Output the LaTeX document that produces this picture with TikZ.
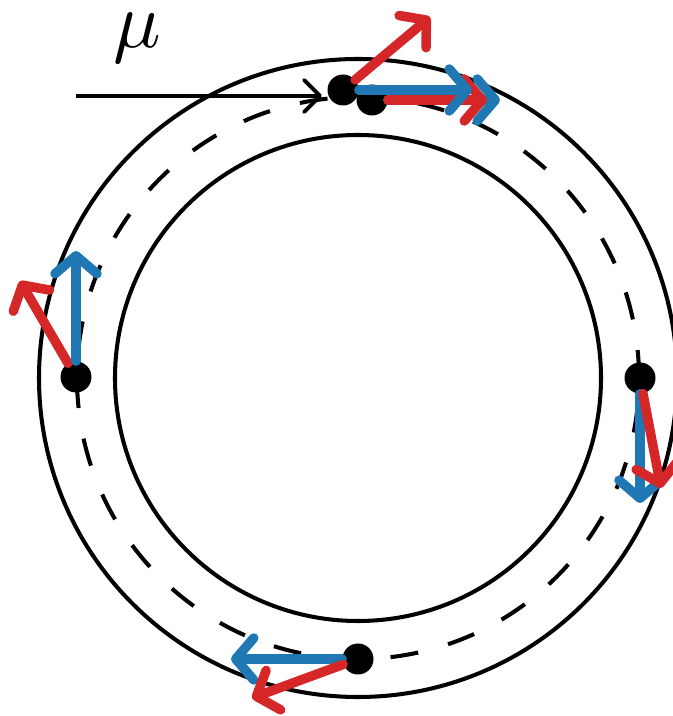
\documentclass[tikz,border=0pt]{standalone}
\usepackage{tikz}
\usetikzlibrary{arrows.meta}

\definecolor{tabred}{HTML}{D62728}
\definecolor{tabblue}{HTML}{1F77B4}

\tikzset{
  dot/.style={circle, fill=black, inner sep=0pt, minimum size=0.62cm},
  ring/.style={line width=2.3pt},
  vel/.style={line width=5.4pt, line cap=round,
    -{Straight Barb[length=0.36cm, width=0.84cm, round]}},
  flow/.style={line width=2.2pt,
    -{Straight Barb[length=0.32cm, width=0.64cm, round]}}
}

\begin{document}
\begin{tikzpicture}
  \useasboundingbox (0,0) rectangle (13.44,14.32);

  % ring
  \coordinate (c) at (7.16,6.76);
  \draw[ring] (c) circle (6.38);
  \draw[ring] (c) circle (4.86);
  \draw[ring, dash pattern=on 0.56cm off 0.62cm] (c) circle (5.62);

  % particles
  \node[dot] (pa) at (6.86,12.52) {};
  \node[dot] (pb) at (7.44,12.32) {};
  \node[dot] (pl) at (1.52,6.78) {};
  \node[dot] (pr) at (12.80,6.76) {};
  \node[dot] (pd) at (7.16,1.14) {};

  % arrow tips
  \coordinate (ra) at (8.60,13.98);
  \coordinate (ba) at (9.44,12.52);
  \coordinate (rb) at (9.74,12.32);
  \coordinate (bb) at (10.00,12.32);
  \coordinate (bl) at (1.52,9.30);
  \coordinate (rl) at (0.40,8.70);
  \coordinate (br) at (12.80,4.26);
  \coordinate (rr) at (13.22,4.56);
  \coordinate (bd) at (4.62,1.14);
  \coordinate (rd) at (5.04,0.36);

  % velocities
  \draw[vel, tabred] (pa) -- (ra);
  \draw[vel, tabblue] (pb) -- (bb);
  \draw[vel, tabred] (pb) -- (rb);
  \draw[vel, tabblue] (pa) -- (ba);
  \draw[vel, tabred] (pl) -- (rl);
  \draw[vel, tabblue] (pl) -- (bl);
  \draw[vel, tabblue] (pr) -- (br);
  \draw[vel, tabred] (pr) -- (rr);
  \draw[vel, tabblue] (pd) -- (bd);
  \draw[vel, tabred] (pd) -- (rd);

  % incoming
  \coordinate (in) at (1.52,12.40);
  \coordinate (inend) at (6.44,12.40);
  \draw[flow] (in) -- (inend);
  \node[scale=4.5, inner sep=0pt] (mu) at (2.74,13.56) {$\mu$};
\end{tikzpicture}
\end{document}
